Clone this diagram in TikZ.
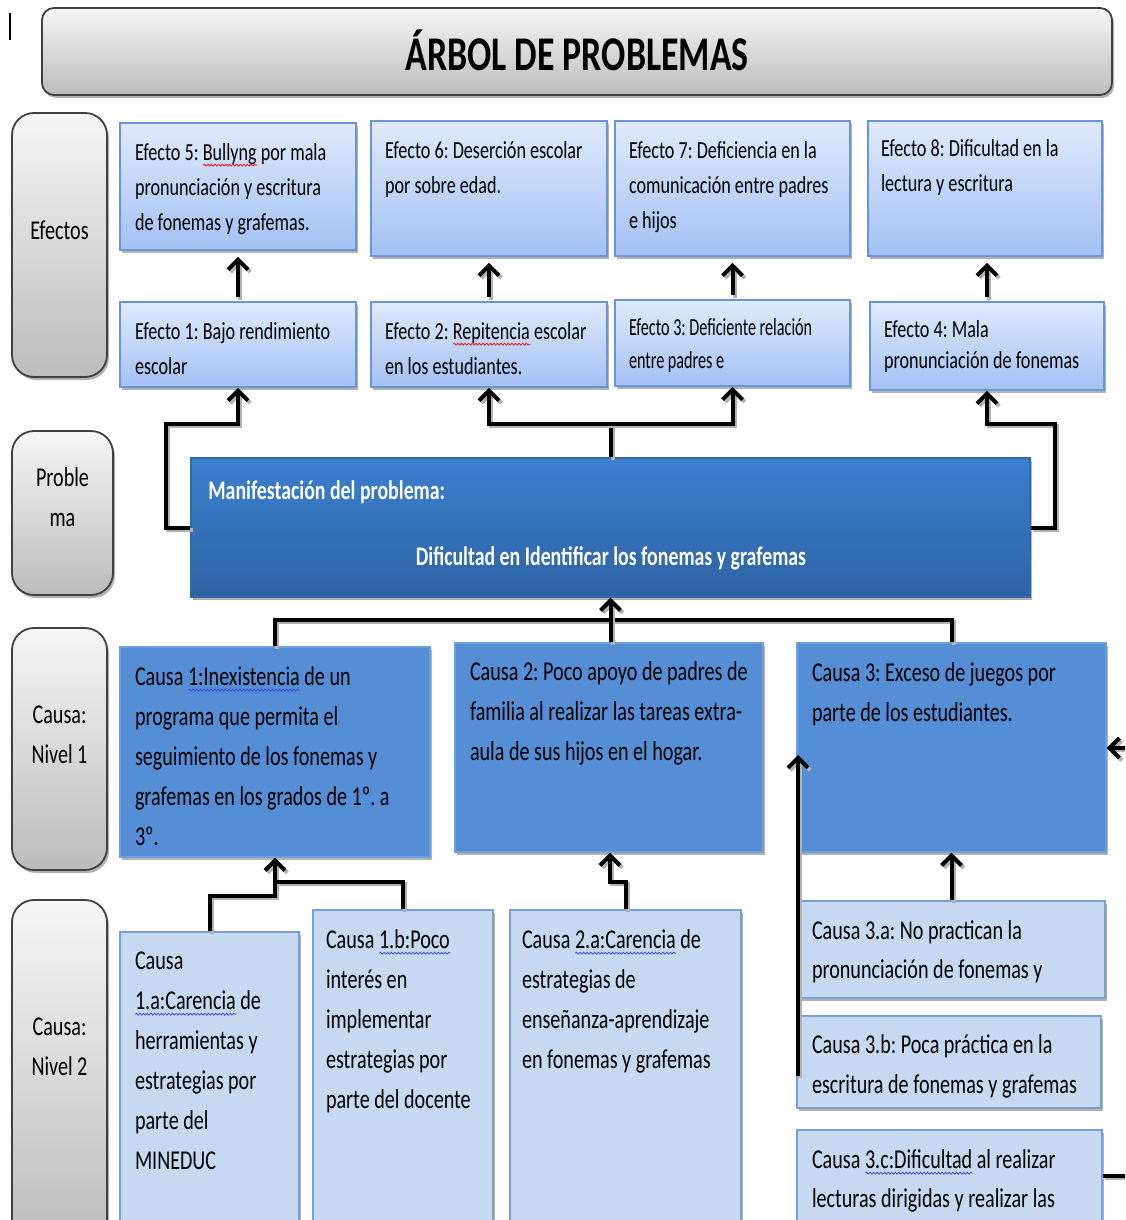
\documentclass[tikz,border=0pt]{standalone}
\usepackage{fontspec}
\setmainfont{Carlito}[FakeStretch=0.74]
\newfontfamily\narrowfont{Carlito}[FakeStretch=0.66]
\frenchspacing
\usetikzlibrary{fit,arrows.meta,shadows,decorations.pathmorphing}
\newsavebox\wvbox
\newcommand\wv[2]{\leavevmode\sbox\wvbox{#2}\rlap{\tikz[baseline=0pt]\draw[#1,line width=0.35pt,decorate,decoration={snake,amplitude=0.5pt,segment length=1.8pt}] (0pt,-2.6pt) -- (\wd\wvbox,-2.6pt);}\usebox\wvbox}
\definecolor{lblTop}{RGB}{246,246,246}
\definecolor{lblBot}{RGB}{188,188,188}
\definecolor{lblLine}{RGB}{64,64,64}
\definecolor{effTop}{RGB}{224,234,252}
\definecolor{effBot}{RGB}{163,193,243}
\definecolor{effLine}{RGB}{105,148,218}
\definecolor{probTop}{RGB}{60,128,208}
\definecolor{probBot}{RGB}{46,98,162}
\definecolor{probLine}{RGB}{52,104,170}
\definecolor{cOneFill}{RGB}{85,142,213}
\definecolor{cOneLine}{RGB}{110,160,222}
\definecolor{cTwoFill}{RGB}{198,217,241}
\definecolor{cTwoLine}{RGB}{118,160,218}
\definecolor{waveBlue}{RGB}{60,60,230}
\begin{document}
\begin{tikzpicture}[x=0.5pt,y=-0.5pt,
  shadowed/.style={drop shadow={shadow xshift=1pt,shadow yshift=-1.5pt,fill=black,opacity=0.3}},
  titlebox/.style={inner sep=0pt, rounded corners=6pt, draw=lblLine, line width=0.9pt, top color=lblTop, bottom color=lblBot, shadowed},
  lblbox/.style={inner sep=0pt, rounded corners=11pt, draw=lblLine, line width=0.9pt, top color=lblTop, bottom color=lblBot, shadowed},
  effbox/.style={inner sep=0pt, draw=effLine, line width=0.8pt, top color=effTop, bottom color=effBot, shadowed},
  probbox/.style={inner sep=0pt, draw=probLine, line width=0.6pt, top color=probTop, bottom color=probBot, shadowed},
  cbox/.style={inner sep=0pt, draw=cOneLine, line width=0.6pt, fill=cOneFill, shadowed},
  dbox/.style={inner sep=0pt, draw=cTwoLine, line width=0.8pt, fill=cTwoFill, shadowed},
  lbltxt/.style={anchor=base, align=flush center, text width=45pt, inner sep=0pt, font=\fontsize{13.6}{20}\selectfont},
  txt/.style={anchor=base west, inner sep=0pt, outer sep=0pt, align=flush left, text width=200pt},
  fE/.style={font=\fontsize{12.25}{17.75}\selectfont},
  fC/.style={font=\fontsize{13.6}{20}\selectfont},
  conn/.style={line width=2pt, black, preaction={draw=black!30, line width=2pt, transform canvas={xshift=1.2pt,yshift=-1.2pt}}},
  arr/.style={conn, -{Straight Barb[length=5pt,width=10pt]}},
  effarr/.style={arr, shorten >=3pt, shorten <=2pt}
]
\useasboundingbox (0,0) rectangle (1125,1220);
\fill[white] (0,0) rectangle (1125,1220);
\clip (0,0) rectangle (1125,1220);

% cursor mark
\coordinate (cur1) at (10,13);
\coordinate (cur2) at (10,40);
\draw[line width=0.8pt] (cur1) -- (cur2);

% title
\node[titlebox, fit={(42,8) (1112,95)}] (title) {};
\node[anchor=base, inner sep=0pt, font=\bfseries\fontsize{24.2}{28}\selectfont] (titletext) at (577,71) {ÁRBOL DE PROBLEMAS};

% side labels
\node[lblbox, fit={(12,113) (107,377)}] (lefe) {};
\node[lbltxt] (lefet) at (59.5,239) {Efectos};
\node[lblbox, fit={(12,431) (113,595)}] (lprob) {};
\node[lbltxt] (lprobt) at (62.5,486) {Proble\\ma};
\node[lblbox, fit={(12,628) (107,870)}] (lcone) {};
\node[lbltxt] (lconet) at (59.5,723) {Causa:\\Nivel 1};
\node[lblbox, fit={(12,900) (107,1245)}] (lctwo) {};
\node[lbltxt] (lctwot) at (59.5,1035) {Causa:\\Nivel 2};

% effect boxes
\node[effbox, fit={(120,123) (356,250)}] (e5) {};
\node[effbox, fit={(371,121) (607,256)}] (e6) {};
\node[effbox, fit={(615,121) (850,256)}] (e7) {};
\node[effbox, fit={(868,121) (1102,256)}] (e8) {};
\node[effbox, fit={(120,302) (356,387)}] (e1) {};
\node[effbox, fit={(371,302) (607,387)}] (e2) {};
\node[effbox, fit={(615,300) (850,386)}] (e3) {};
\node[effbox, fit={(870,302) (1104,390)}] (e4) {};

\node[txt, fE] (t5) at (135,160) {Efecto 5: \wv{red}{Bullyng} por mala\\pronunciación y escritura\\de fonemas y grafemas.};
\node[txt, fE] (t6) at (385,158) {Efecto 6: Deserción escolar\\por sobre edad.};
\node[txt, fE] (t7) at (629,158) {Efecto 7: Deficiencia en la\\comunicación entre padres\\e hijos};
\node[txt, fE] (t8) at (881,156) {Efecto 8: Dificultad en la\\lectura y escritura};
\node[txt, fE] (t1) at (135,339) {Efecto 1: Bajo rendimiento\\escolar};
\node[txt, fE] (t2) at (385,339) {Efecto 2: \wv{red}{Repitencia} escolar\\en los estudiantes.};
\node[txt, font=\narrowfont\fontsize{12.25}{16.5}\selectfont] (t3) at (629,335) {Efecto 3: Deficiente relación\\entre padres e};
\node[txt, font=\fontsize{12.25}{15.5}\selectfont] (t4) at (884,337) {Efecto 4: Mala\\pronunciación de fonemas};

% problem
\node[probbox, fit={(191,458) (1030,597)}] (prob) {};
\node[anchor=base west, inner sep=0pt, text=white, font=\bfseries\fontsize{13.4}{18}\selectfont] (probt1) at (208,499) {Manifestación del problema:};
\node[anchor=base, inner sep=0pt, text=white, font=\bfseries\fontsize{13.4}{18}\selectfont] (probt2) at (611,565) {Dificultad en Identificar los fonemas y grafemas};

% causes level 1
\node[cbox, fit={(120,647) (430,857)}] (c1) {};
\node[cbox, fit={(455,643) (763,852)}] (c2) {};
\node[cbox, fit={(797,643) (1106,852)}] (c3) {};
\node[txt, fC] (tc1) at (135,685) {Causa \wv{waveBlue}{1:Inexistencia} de un\\programa que permita el\\seguimiento de los fonemas y\\grafemas en los grados de 1º. a\\3º.};
\node[txt, fC] (tc2) at (470,680) {Causa 2: Poco apoyo de padres de\\familia al realizar las tareas extra-\\aula de sus hijos en el hogar.};
\node[txt, fC] (tc3) at (812,681) {Causa 3: Exceso de juegos por\\parte de los estudiantes.};

% causes level 2
\node[dbox, fit={(120,932) (299,1245)}] (c1a) {};
\node[dbox, fit={(313,910) (493,1245)}] (c1b) {};
\node[dbox, fit={(510,910) (741,1245)}] (c2a) {};
\node[dbox, fit={(798,901) (1105,998)}] (c3a) {};
\node[dbox, fit={(797,1016) (1101,1108)}] (c3b) {};
\node[dbox, fit={(797,1130) (1102,1245)}] (c3c) {};
\node[txt, fC] (tca) at (135,969) {Causa\\\wv{waveBlue}{1.a:Carencia} de\\herramientas y\\estrategias por\\parte del\\MINEDUC};
\node[txt, fC] (tcb) at (326,948) {Causa \wv{waveBlue}{1.b:Poco}\\interés en\\implementar\\estrategias por\\parte del docente};
\node[txt, fC] (tc2a) at (522,948) {Causa \wv{waveBlue}{2.a:Carencia} de\\estrategias de\\enseñanza-aprendizaje\\en fonemas y grafemas};
\node[txt, font=\fontsize{13.6}{19.5}\selectfont] (tc3a) at (812,939) {Causa 3.a: No practican la\\pronunciación de fonemas y};
\node[txt, fC] (tc3b) at (812,1053) {Causa 3.b: Poca práctica en la\\escritura de fonemas y grafemas};
\node[txt, font=\fontsize{13.6}{19.5}\selectfont] (tc3c) at (812,1168) {Causa \wv{waveBlue}{3.c:Dificultad} al realizar\\lecturas dirigidas y realizar las};

% effect arrows
\draw[effarr] (e1.north) -- (e5.south);
\draw[effarr] (e2.north) -- (e6.south);
\draw[effarr] (e3.north) -- (e3.north |- e7.south);
\draw[effarr] (e4.north) -- (e4.north |- e8.south);

% problem to effects
\coordinate (jl) at (166,424);
\coordinate (jr) at (1055,424);
\coordinate (jm) at (610.5,424);
\draw[arr] (prob.west) -| (jl) -| (e1.south);
\draw[arr] (prob.east) -| (jr) -| (e4.south);
\draw[conn] (prob.north) -- (jm);
\draw[arr] (jm) -| (e2.south);
\draw[arr] (jm) -| (e3.south);

% causes to problem
\coordinate (hc) at (610.5,620);
\draw[conn] (c1.north) |- (hc) -| (c3.north);
\draw[arr] (c2.north -| hc) -- (prob.south);

% level 2 to level 1
\coordinate (k1) at (275,896);
\coordinate (k2) at (275,882);
\draw[arr] (c1a.north) |- (k1) -- (c1.south);
\draw[conn] (c1b.north) |- (k2);
\coordinate (k3) at (610,882);
\draw[arr] (c2a.north) |- (k3) -- (k3 |- c2.south);
\draw[arr] (c3a.north) -- (c3a.north |- c3.south);
\coordinate (v1) at (798,1076);
\coordinate (v2) at (798,755);
\draw[arr] (v1) -- (v2);
\coordinate (rc) at (1140,1176);
\draw[conn] (c3c.east |- rc) -- (rc);
\coordinate (ra) at (1140,748);
\draw[arr] (ra) -- (c3.east |- ra);
\end{tikzpicture}
\end{document}
